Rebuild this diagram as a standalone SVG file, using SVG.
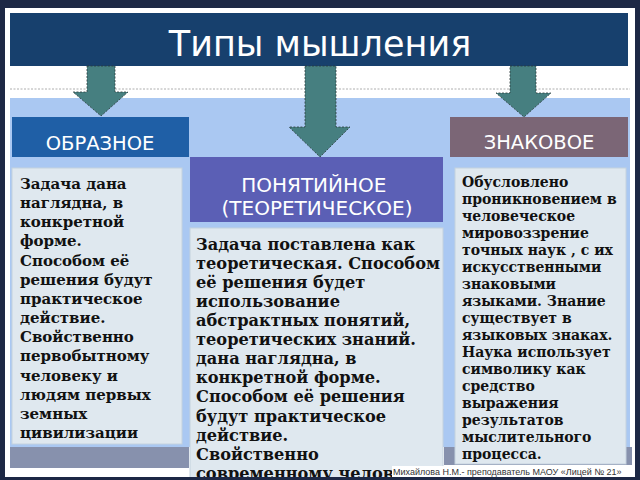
<svg xmlns="http://www.w3.org/2000/svg" width="640" height="480" viewBox="0 0 640 480">
<defs>
<style>
.hdr{font-family:"DejaVu Sans","Open Sans",sans-serif;fill:#ffffff;text-anchor:middle}
.body{font-family:"DejaVu Serif","Liberation Serif",serif;font-weight:bold;fill:#111111}
.box{fill:#dfe8ef;stroke:#c4d2de;stroke-width:1}
.arrow{fill:#467f80;stroke:#2b3b3b;stroke-width:0.8;stroke-dasharray:2 1.5}
.band{fill:#8791ad}
</style>
</defs>
<rect x="0" y="0" width="640" height="480" fill="#1d2845"/>
<rect x="5" y="8" width="630" height="469" fill="#ffffff"/>
<line x1="10" y1="89" x2="630" y2="89" stroke="#9a9a9a" stroke-width="0.8" stroke-dasharray="2 1.5"/>
<rect x="10" y="98" width="620" height="349" fill="#aac8f2"/>
<rect class="band" x="10" y="447" width="179" height="21"/>
<rect class="band" x="444" y="447" width="188" height="18"/>

<g id="title">
<rect x="10" y="13" width="618" height="53" fill="#17406d"/>
<text class="hdr" x="320" y="56" font-size="35">Типы мышления</text>
</g>

<g id="connectors">
<path class="arrow" d="M87 66 H115 V92 H128 L101 116 L73 92 H87 Z"/>
<path class="arrow" d="M305 66 H336 V127 H350 L320 157 L289 127 H305 Z"/>
<path class="arrow" d="M510 66 H536 V93 H551 L524 117 L496 93 H510 Z"/>
</g>

<g id="node-obraznoe">
<rect x="12" y="117" width="177" height="40" fill="#1f5fa6"/>
<text class="hdr" x="100" y="150" font-size="19.5">ОБРАЗНОЕ</text>
<rect class="box" x="12" y="168" width="170" height="276"/>
<text class="body" font-size="15">
<tspan x="20" y="189">Задача дана</tspan>
<tspan x="20" y="208">наглядна, в</tspan>
<tspan x="20" y="227">конкретной</tspan>
<tspan x="20" y="246">форме.</tspan>
<tspan x="20" y="266">Способом её</tspan>
<tspan x="20" y="285">решения будут</tspan>
<tspan x="20" y="304">практическое</tspan>
<tspan x="20" y="323">действие.</tspan>
<tspan x="20" y="342">Свойственно</tspan>
<tspan x="20" y="361">первобытному</tspan>
<tspan x="20" y="381">человеку и</tspan>
<tspan x="20" y="400">людям первых</tspan>
<tspan x="20" y="419">земных</tspan>
<tspan x="20" y="438">цивилизации</tspan>
</text>
</g>

<g id="node-ponyatiynoe">
<rect x="190" y="157" width="253" height="65" fill="#5b5fb5"/>
<text class="hdr" font-size="20">
<tspan x="317" y="192">ПОНЯТИЙНОЕ</tspan>
<tspan x="317" y="215">(ТЕОРЕТИЧЕСКОЕ)</tspan>
</text>
<rect class="box" x="190" y="228" width="253" height="252"/>
<text class="body" font-size="16.2">
<tspan x="196" y="250">Задача поставлена как</tspan>
<tspan x="196" y="269">теоретическая. Способом</tspan>
<tspan x="196" y="288">её решения будет</tspan>
<tspan x="196" y="307">использование</tspan>
<tspan x="196" y="326">абстрактных понятий,</tspan>
<tspan x="196" y="345">теоретических знаний.</tspan>
<tspan x="196" y="364">дана наглядна, в</tspan>
<tspan x="196" y="383">конкретной форме.</tspan>
<tspan x="196" y="402">Способом её решения</tspan>
<tspan x="196" y="422">будут практическое</tspan>
<tspan x="196" y="441">действие.</tspan>
<tspan x="196" y="460">Свойственно</tspan>
<tspan x="196" y="479">современному человеку</tspan>
</text>
</g>

<g id="node-znakovoe">
<rect x="450" y="117" width="178" height="40" fill="#7b6676"/>
<text class="hdr" x="539" y="149" font-size="19.5">ЗНАКОВОЕ</text>
<rect class="box" x="455" y="168" width="171" height="296"/>
<text class="body" font-size="14">
<tspan x="462" y="187">Обусловлено</tspan>
<tspan x="462" y="204">проникновением в</tspan>
<tspan x="462" y="221">человеческое</tspan>
<tspan x="462" y="238">мировоззрение</tspan>
<tspan x="462" y="255">точных наук , с их</tspan>
<tspan x="462" y="272">искусственными</tspan>
<tspan x="462" y="289">знаковыми</tspan>
<tspan x="462" y="306">языками. Знание</tspan>
<tspan x="462" y="323">существует в</tspan>
<tspan x="462" y="340">языковых знаках.</tspan>
<tspan x="462" y="357">Наука использует</tspan>
<tspan x="462" y="374">символику как</tspan>
<tspan x="462" y="391">средство</tspan>
<tspan x="462" y="408">выражения</tspan>
<tspan x="462" y="425">результатов</tspan>
<tspan x="462" y="442">мыслительного</tspan>
<tspan x="462" y="459">процесса.</tspan>
</text>
</g>

<path d="M0 0 H640 V480 H0 Z M5 8 V477 H635 V8 Z" fill="#1d2845" fill-rule="evenodd"/>
<g id="footer">
<rect x="392" y="466" width="240" height="11" fill="#ffffff"/>
<text x="393" y="475" font-family="Liberation Sans, Arial, sans-serif" font-size="9" fill="#333333">Михайлова Н.М.- преподаватель МАОУ «Лицей № 21»</text>
</g>
</svg>
